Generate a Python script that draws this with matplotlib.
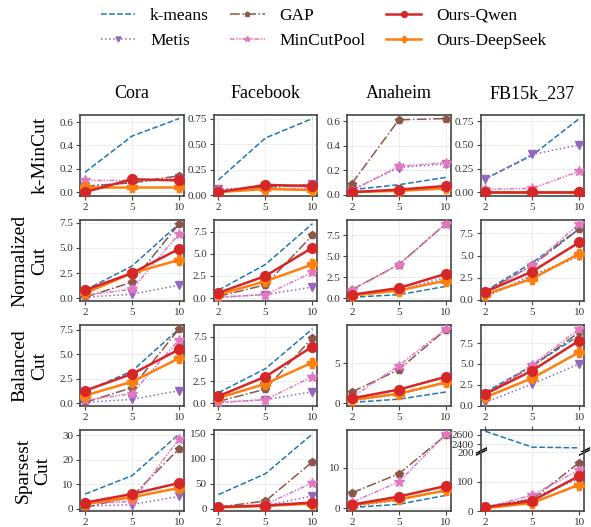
import matplotlib
matplotlib.use("Agg")
import matplotlib.pyplot as plt
from matplotlib.ticker import MultipleLocator

plt.rcParams["font.family"] = ["Liberation Serif", "DejaVu Serif"]

k_values = ["2", "5", "10"]
datasets = ["Cora", "Facebook", "Anaheim", "FB15k_237"]
metrics = ["k-MinCut", "Normalized\nCut", "Balanced\nCut", "Sparsest\nCut"]
methods = ["k-means", "Metis", "GAP", "MinCutPool", "Ours-Qwen", "Ours-DeepSeek"]

# values per metric, per dataset, per method (k = 2, 5, 10)
kmincut = {
    "Cora": {"k-means": [0.17, 0.48, 0.63], "Metis": [0.05, 0.08, 0.12], "GAP": [0.05, 0.08, 0.14],
             "MinCutPool": [0.10, 0.10, 0.11], "Ours-Qwen": [0.00, 0.11, 0.10], "Ours-DeepSeek": [0.04, 0.04, 0.04]},
    "Facebook": {"k-means": [0.15, 0.56, 0.75], "Metis": [0.06, 0.07, 0.11], "GAP": [0.04, 0.08, 0.10],
                 "MinCutPool": [0.05, 0.06, 0.07], "Ours-Qwen": [0.03, 0.10, 0.09], "Ours-DeepSeek": [0.03, 0.06, 0.05]},
    "Anaheim": {"k-means": [0.04, 0.08, 0.14], "Metis": [0.04, 0.22, 0.25], "GAP": [0.09, 0.61, 0.62],
                "MinCutPool": [0.03, 0.23, 0.26], "Ours-Qwen": [0.02, 0.04, 0.07], "Ours-DeepSeek": [0.02, 0.03, 0.05]},
    "FB15k_237": {"k-means": [0.14, 0.39, 0.78], "Metis": [0.14, 0.40, 0.50], "GAP": [0.00, 0.00, 0.00],
                  "MinCutPool": [0.03, 0.04, 0.22], "Ours-Qwen": [0.00, 0.00, 0.00], "Ours-DeepSeek": [0.00, 0.00, 0.00]},
}
normalized_cut = {
    "Cora": {"k-means": [0.8, 3.2, 7.4], "Metis": [0.1, 0.4, 1.3], "GAP": [0.1, 1.6, 7.4],
             "MinCutPool": [0.3, 0.9, 6.4], "Ours-Qwen": [0.8, 2.5, 4.9], "Ours-DeepSeek": [0.5, 2.5, 3.8]},
    "Facebook": {"k-means": [0.9, 3.8, 8.4], "Metis": [0.1, 0.4, 1.25], "GAP": [0.2, 1.5, 7.1],
                 "MinCutPool": [0.1, 0.4, 2.9], "Ours-Qwen": [0.6, 2.5, 5.7], "Ours-DeepSeek": [0.4, 1.9, 3.8]},
    "Anaheim": {"k-means": [0.1, 0.4, 1.4], "Metis": [0.3, 0.9, 2.5], "GAP": [1.0, 4.0, 8.9],
                "MinCutPool": [1.0, 4.0, 8.9], "Ours-Qwen": [0.4, 1.2, 2.9], "Ours-DeepSeek": [0.3, 0.9, 2.1]},
    "FB15k_237": {"k-means": [1.0, 4.2, 8.0], "Metis": [0.3, 2.8, 4.9], "GAP": [0.9, 3.9, 8.0],
                  "MinCutPool": [0.8, 3.9, 8.6], "Ours-Qwen": [0.9, 3.2, 6.5], "Ours-DeepSeek": [0.6, 2.4, 5.2]},
}
balanced_cut = {
    "Cora": {"k-means": [1.2, 3.3, 7.6], "Metis": [0.1, 0.4, 1.3], "GAP": [0.1, 1.6, 7.6],
             "MinCutPool": [0.3, 1.0, 6.5], "Ours-Qwen": [1.3, 3.0, 5.5], "Ours-DeepSeek": [0.8, 2.2, 4.6]},
    "Facebook": {"k-means": [1.2, 3.9, 8.4], "Metis": [0.1, 0.4, 1.3], "GAP": [0.2, 1.6, 7.4],
                 "MinCutPool": [0.1, 0.4, 3.0], "Ours-Qwen": [0.8, 3.0, 6.4], "Ours-DeepSeek": [0.6, 2.2, 4.6]},
    "Anaheim": {"k-means": [0.1, 0.5, 1.4], "Metis": [0.3, 1.1, 2.5], "GAP": [1.4, 4.2, 9.2],
                "MinCutPool": [0.7, 4.7, 9.3], "Ours-Qwen": [0.6, 1.7, 3.3], "Ours-DeepSeek": [0.4, 1.2, 2.6]},
    "FB15k_237": {"k-means": [1.6, 4.8, 8.4], "Metis": [0.4, 2.6, 5.0], "GAP": [1.4, 4.7, 8.8],
                  "MinCutPool": [1.3, 4.9, 9.2], "Ours-Qwen": [1.4, 4.2, 7.8], "Ours-DeepSeek": [1.0, 3.3, 6.4]},
}
sparsest_cut = {
    "Cora": {"k-means": [6.0, 13.5, 30.5], "Metis": [1.0, 1.7, 5.0], "GAP": [0.5, 5.0, 24.5],
             "MinCutPool": [2.0, 3.0, 28.5], "Ours-Qwen": [2.5, 6.0, 10.5], "Ours-DeepSeek": [2.0, 4.7, 8.5]},
    "Facebook": {"k-means": [28, 70, 150], "Metis": [2, 6, 25], "GAP": [3, 15, 94],
                 "MinCutPool": [2, 8, 52], "Ours-Qwen": [3, 6, 12], "Ours-DeepSeek": [2, 5, 10]},
    "Anaheim": {"k-means": [0.2, 1.0, 3.2], "Metis": [0.5, 2.0, 4.5], "GAP": [3.8, 8.5, 18.0],
                "MinCutPool": [1.5, 6.5, 18.3], "Ours-Qwen": [0.9, 2.9, 5.5], "Ours-DeepSeek": [0.8, 2.2, 4.4]},
    "FB15k_237": {"k-means": [2680, 2340, 2325], "Metis": [10, 45, 110], "GAP": [15, 40, 165],
                  "MinCutPool": [12, 55, 140], "Ours-Qwen": [14, 35, 120], "Ours-DeepSeek": [10, 28, 90]},
}
all_metrics = [kmincut, normalized_cut, balanced_cut, sparsest_cut]

styles = {
    "k-means": dict(color="#1f77b4", ls="--", marker=None, lw=1.1, ms=0),
    "Metis": dict(color="#9467bd", ls=":", marker="v", lw=1.1, ms=6),
    "GAP": dict(color="#8c564b", ls="-.", marker="p", lw=1.1, ms=6),
    "MinCutPool": dict(color="#e377c2", ls=(0, (3, 1, 1, 1, 1, 1)), marker="*", lw=1.1, ms=7),
    "Ours-Qwen": dict(color="#d62728", ls="-", marker="o", lw=1.8, ms=7),
    "Ours-DeepSeek": dict(color="#ff7f0e", ls="-", marker="P", lw=1.8, ms=7),
}
zorders = {"k-means": 2, "Metis": 3, "GAP": 3, "MinCutPool": 3, "Ours-Qwen": 5, "Ours-DeepSeek": 4}

y_steps = [[0.2, 0.25, 0.2, 0.25], [2.5, 2.5, 2.5, 2.5], [2.5, 2.5, 5, 2.5], [10, 50, 10, 100]]

x = list(range(len(k_values)))


def style_axes(ax):
    ax.grid(True, ls="--", lw=0.5, color="#dddddd")
    ax.set_axisbelow(True)
    for s in ax.spines.values():
        s.set_color("#444444")
        s.set_linewidth(1.2)
    ax.tick_params(labelsize=8, length=3, width=0.8, color="#444444", labelcolor="#333333", pad=2)
    ax.set_xticks(x)
    ax.set_xticklabels(k_values)
    ax.set_xlim(-0.1, 2.1)


def draw_lines(ax, panel):
    for m in methods:
        st = styles[m]
        ax.plot(x, panel[m], color=st["color"], ls=st["ls"], marker=st["marker"], lw=st["lw"],
                ms=st["ms"], label=m, zorder=zorders[m])


fig = plt.figure(figsize=(5.91, 5.27), dpi=100)
gs = fig.add_gridspec(4, 4, left=0.136, right=0.988, top=0.782, bottom=0.030, wspace=0.29, hspace=0.30)

for r in range(4):
    for c in range(4):
        panel = all_metrics[r][datasets[c]]
        if r == 3 and c == 3:
            # broken y axis for FB15k_237 sparsest cut
            sub = gs[r, c].subgridspec(2, 1, height_ratios=[1, 3], hspace=0.06)
            ax_top = fig.add_subplot(sub[0])
            ax_bot = fig.add_subplot(sub[1], sharex=ax_top)
            for a in (ax_top, ax_bot):
                draw_lines(a, panel)
                style_axes(a)
            ax_top.set_ylim(2280, 2700)
            ax_bot.set_ylim(0, 200)
            ax_top.yaxis.set_major_locator(MultipleLocator(200))
            ax_bot.yaxis.set_major_locator(MultipleLocator(100))
            ax_top.spines["bottom"].set_visible(False)
            ax_bot.spines["top"].set_visible(False)
            ax_top.xaxis.tick_top()
            ax_top.tick_params(labeltop=False)
            ax_bot.xaxis.tick_bottom()
            d = 0.5
            kw = dict(marker=[(-1, -d), (1, d)], markersize=8, linestyle="none", color="k",
                      mec="k", mew=1, clip_on=False)
            ax_top.plot([0, 1], [0, 0], transform=ax_top.transAxes, **kw)
            ax_bot.plot([0, 1], [1, 1], transform=ax_bot.transAxes, **kw)
            continue
        ax = fig.add_subplot(gs[r, c])
        draw_lines(ax, panel)
        style_axes(ax)
        ax.yaxis.set_major_locator(MultipleLocator(y_steps[r][c]))
        if r == 0:
            ax.set_title(datasets[c], fontsize=13, pad=12)
        if c == 0:
            ax.set_ylabel(metrics[r], fontsize=14, labelpad=8)
        if r == 0 and c == 0:
            handles, labels = ax.get_legend_handles_labels()

fig.legend(handles, labels, loc="upper center", bbox_to_anchor=(0.547, 1.015), ncol=3, frameon=False,
           fontsize=12.5, handlelength=2.0, markerscale=0.6, columnspacing=1.2, labelspacing=0.5,
           handletextpad=0.85)

fig.savefig("out.png", dpi=100)
